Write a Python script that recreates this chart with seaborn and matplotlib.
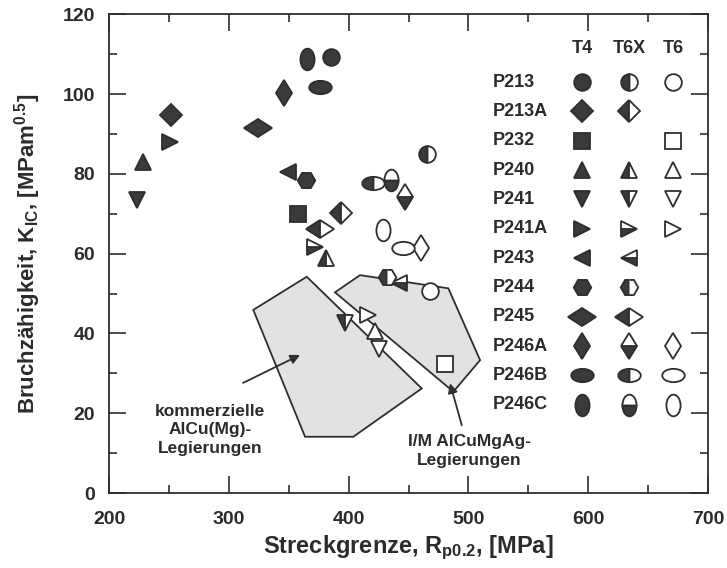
import matplotlib
matplotlib.use('Agg')
import numpy as np
import pandas as pd
import seaborn as sns
import matplotlib.pyplot as plt
from matplotlib.markers import MarkerStyle
from matplotlib.transforms import Affine2D
from matplotlib.patches import Polygon
from matplotlib.ticker import MultipleLocator

# Legierungen und Zustaende
alloys = ['P213', 'P213A', 'P232', 'P240', 'P241', 'P241A',
          'P243', 'P244', 'P245', 'P246A', 'P246B', 'P246C']
states = ['T4', 'T6X', 'T6']

# Rp0.2 [MPa] / KIC [MPam^0.5], None = nicht gemessen
t4_x = [385, 252, 358, 228, 223, 251, 349, 364, 324, 346, 376, 365]
t4_y = [109.3, 94.7, 69.9, 83.0, 73.4, 88.0, 80.5, 78.4, 91.5, 100.3, 101.8, 108.8]
t6x_x = [465, 394, None, 381, 397, 372, 442, 432, 376, 447, 420, 435]
t6x_y = [85.0, 70.2, None, 58.9, 42.6, 61.7, 52.6, 54.1, 66.2, 74.2, 77.7, 78.4]
t6_x = [468, None, 480, 422, 425, 416, None, None, None, 460, 445, 429]
t6_y = [50.6, None, 32.3, 40.6, 36.1, 44.6, None, None, None, 61.4, 61.4, 65.9]

# Streubaender
comm_x = [320.4, 365.0, 461.0, 403.9, 363.6]
comm_y = [45.9, 54.2, 26.2, 14.1, 14.1]
im_x = [388.6, 409.5, 483.2, 509.7, 487.4]
im_y = [50.3, 54.6, 51.3, 33.3, 25.4]

# Markerform je Legierung: (Grundform, Streckung x, Streckung y, Fuellung T6X)
shapes = {
    'P213': ('o', 1.0, 1.0, 'left'),
    'P213A': ('D', 0.95, 0.95, 'left'),
    'P232': ('s', 1.0, 1.0, 'full'),
    'P240': ('^', 1.0, 1.0, 'left'),
    'P241': ('v', 1.0, 1.0, 'left'),
    'P241A': ('>', 1.0, 1.0, 'bottom'),
    'P243': ('<', 1.0, 1.0, 'bottom'),
    'P244': ('H', 1.05, 1.05, 'left'),
    'P245': ('D', 1.19, 0.76, 'left'),
    'P246A': ('D', 0.72, 1.14, 'bottom'),
    'P246B': ('o', 1.35, 0.8, 'left'),
    'P246C': ('o', 0.85, 1.3, 'bottom'),
}

dark = '#3a3a3a'
edge = '#2e2e2e'
txt = '#2b2b2b'

sns.set_theme(style='ticks')
plt.rcParams['font.family'] = ['Liberation Sans', 'DejaVu Sans']
plt.rcParams['font.weight'] = 'bold'
plt.rcParams['mathtext.fontset'] = 'custom'
plt.rcParams['mathtext.rm'] = 'Liberation Sans:bold'
plt.rcParams['mathtext.it'] = 'Liberation Sans:bold'
plt.rcParams['mathtext.bf'] = 'Liberation Sans:bold'

fig, ax = plt.subplots(figsize=(7.27, 5.68), dpi=100)
fig.subplots_adjust(left=0.150, right=0.974, bottom=0.132, top=0.975)


def marker(a, fill):
    base, sx, sy, _ = shapes[a]
    return MarkerStyle(base, fillstyle=fill, transform=Affine2D().scale(sx, sy))


def draw(a, state, x, y):
    half = shapes[a][3]
    if state == 'T4':
        m, fc = marker(a, 'full'), dark
    elif state == 'T6X':
        m, fc = marker(a, half), dark
    else:
        m, fc = marker(a, 'full'), 'white'
    ax.plot([x], [y], linestyle='none', marker=m, markersize=12,
            markerfacecolor=fc, markerfacecoloralt='white',
            markeredgecolor=edge, markeredgewidth=1.3, zorder=4, clip_on=False)


ax.add_patch(Polygon(np.column_stack([comm_x, comm_y]), closed=True,
                     facecolor='#e2e2e2', edgecolor=edge, lw=1.3, zorder=1))
ax.add_patch(Polygon(np.column_stack([im_x, im_y]), closed=True,
                     facecolor='#e2e2e2', edgecolor=edge, lw=1.3, zorder=1))

df = pd.DataFrame({'alloy': alloys * 3,
                   'state': np.repeat(states, len(alloys)),
                   'x': t4_x + t6x_x + t6_x,
                   'y': t4_y + t6x_y + t6_y}).dropna()
for _, r in df.iterrows():
    draw(r['alloy'], r['state'], r['x'], r['y'])

# Legende als Tabelle
col_x = {'T4': 595, 'T6X': 634, 'T6': 671}
row_y = np.linspace(103.0, 22.1, len(alloys))
for s in states:
    ax.text(col_x[s], 111.5, s, ha='center', va='center', fontsize=13,
            fontweight='bold', color=txt)
for i, a in enumerate(alloys):
    ax.text(520, row_y[i], a, ha='left', va='center', fontsize=13,
            fontweight='bold', color=txt)
    for s, xs in zip(states, [t4_x, t6x_x, t6_x]):
        if xs[i] is not None:
            draw(a, s, col_x[s], row_y[i])

ax.annotate('', xy=(359.4, 34.6), xytext=(311.9, 27.6),
            arrowprops=dict(arrowstyle='-|>', color=edge, lw=1.3,
                            mutation_scale=14, shrinkA=0, shrinkB=0), zorder=5)
ax.annotate('', xy=(484.6, 27.5), xytext=(494.4, 17.0),
            arrowprops=dict(arrowstyle='-|>', color=edge, lw=1.3,
                            mutation_scale=14, shrinkA=0, shrinkB=0), zorder=5)
ax.text(284, 15.8, 'kommerzielle\nAlCu(Mg)-\nLegierungen', ha='center', va='center',
        fontsize=12.5, fontweight='bold', color=txt, linespacing=1.3)
ax.text(501, 10.5, 'I/M AlCuMgAg-\nLegierungen', ha='center', va='center',
        fontsize=12.5, fontweight='bold', color=txt, linespacing=1.3)

ax.set_xlim(200, 700)
ax.set_ylim(0, 120)
ax.xaxis.set_major_locator(MultipleLocator(100))
ax.xaxis.set_minor_locator(MultipleLocator(50))
ax.yaxis.set_major_locator(MultipleLocator(20))
ax.yaxis.set_minor_locator(MultipleLocator(10))
ax.tick_params(which='both', direction='in', top=True, right=True,
               colors=edge, labelcolor=txt, labelsize=14, width=1.2)
ax.tick_params(which='major', length=12)
ax.tick_params(which='minor', length=6)
ax.tick_params(axis='x', which='major', pad=13)
ax.tick_params(axis='y', which='major', pad=10)
for lab in ax.get_xticklabels() + ax.get_yticklabels():
    lab.set_fontweight('bold')
for sp in ax.spines.values():
    sp.set_color(edge)
    sp.set_linewidth(1.3)

ax.set_xlabel('Streckgrenze, R$_{\\mathrm{p0.2}}$, [MPa]', fontsize=17,
              fontweight='bold', color=txt, labelpad=4)
ax.set_ylabel('Bruchzähigkeit, K$_{\\mathrm{IC}}$, [MPam$^{\\mathrm{0.5}}$]', fontsize=16,
              fontweight='bold', color=txt, labelpad=14)

fig.savefig('out.png', dpi=100)
